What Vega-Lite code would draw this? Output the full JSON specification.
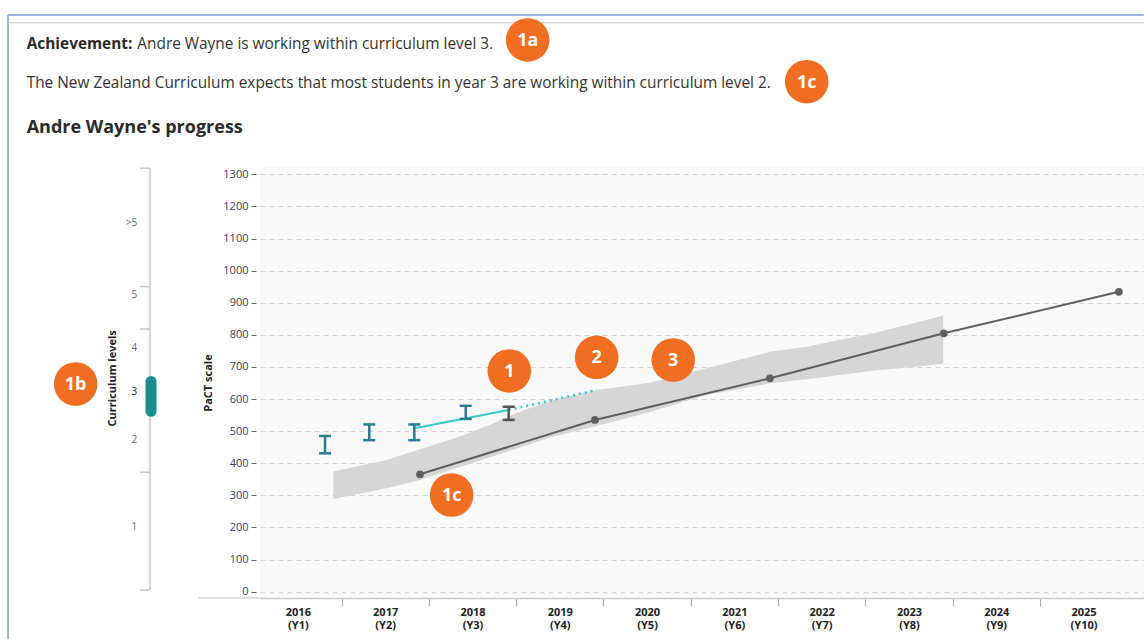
{
  "$schema": "https://vega.github.io/schema/vega-lite/v6.json",
  "width": 884,
  "height": 431,
  "autosize": {"type": "none"},
  "padding": {"left": 260, "top": 167, "right": 0, "bottom": 41},
  "background": "white",
  "config": {
    "font": "Open Sans",
    "view": {"fill": "#f9f9f9", "stroke": null},
    "text": {"font": "Open Sans"}
  },
  "datasets": {
    "band": [
      {"year": 2016.906, "score": 289, "score_hi": 374},
      {"year": 2017.518, "score": 322, "score_hi": 410},
      {"year": 2017.899, "score": 348, "score_hi": 444},
      {"year": 2018.357, "score": 388, "score_hi": 483},
      {"year": 2018.739, "score": 422, "score_hi": 524},
      {"year": 2019.045, "score": 449, "score_hi": 561},
      {"year": 2019.426, "score": 483, "score_hi": 597},
      {"year": 2019.923, "score": 516, "score_hi": 628},
      {"year": 2020.534, "score": 560, "score_hi": 651},
      {"year": 2021.18, "score": 613, "score_hi": 696},
      {"year": 2021.908, "score": 649, "score_hi": 747},
      {"year": 2022.33, "score": 662, "score_hi": 763},
      {"year": 2022.71, "score": 675, "score_hi": 785},
      {"year": 2023.09, "score": 688, "score_hi": 805},
      {"year": 2023.55, "score": 700, "score_hi": 836},
      {"year": 2023.893, "score": 711, "score_hi": 860}
    ],
    "trajectory": [
      {"year": 2017.899, "score": 365.6},
      {"year": 2019.904, "score": 534.8},
      {"year": 2021.908, "score": 664.6},
      {"year": 2023.9, "score": 804.8},
      {"year": 2025.905, "score": 934}
    ],
    "trend": [
      {"year": 2017.834, "score": 509},
      {"year": 2018.915, "score": 566}
    ],
    "projection": [
      {"year": 2018.915, "score": 566},
      {"year": 2019.923, "score": 628}
    ],
    "measurements": [
      {"year": 2016.811, "score": 431, "score_hi": 485, "status": "past"},
      {"year": 2017.318, "score": 472, "score_hi": 521, "status": "past"},
      {"year": 2017.834, "score": 472, "score_hi": 521, "status": "past"},
      {"year": 2018.423, "score": 538, "score_hi": 579, "status": "past"},
      {"year": 2018.915, "score": 535, "score_hi": 576, "status": "latest"}
    ],
    "frameH": [
      {"year": 2013.18, "year_end": 2026.19, "score": 1796.1}
    ],
    "frameV": [
      {"year": 2013.18, "score": -147.7, "score_hi": 1796.1}
    ],
    "grayH": [
      {"year": 2013.19, "year_end": 2026.19, "score": 1772.2},
      {"year": 2015.36, "year_end": 2016.07, "score": -19.6}
    ],
    "levelAxis": [
      {"year": 2014.806, "score": 5.3, "score_hi": 1318.7}
    ],
    "levelBounds": [
      {"year": 2014.691, "year_end": 2014.806, "score": 1318.7},
      {"year": 2014.691, "year_end": 2014.806, "score": 949.9},
      {"year": 2014.691, "year_end": 2014.806, "score": 818.2},
      {"year": 2014.691, "year_end": 2014.806, "score": 371.9},
      {"year": 2014.691, "year_end": 2014.806, "score": 5.3}
    ],
    "levelLabels": [
      {"label": ">5", "year": 2014.659, "score": 1147.4},
      {"label": "5", "year": 2014.659, "score": 924},
      {"label": "4", "year": 2014.659, "score": 760},
      {"label": "3", "year": 2014.659, "score": 623},
      {"label": "2", "year": 2014.659, "score": 472.5},
      {"label": "1", "year": 2014.659, "score": 202.4}
    ],
    "levelRange": [{"year": 2014.818, "score": 562, "score_hi": 655}],
    "levelTitle": [{"text": "Curriculum levels", "year": 2014.384, "score": 664.6}],
    "headerBold": [{"text": "Achievement:", "year": 2013.394, "score": 1690.2}],
    "headerText": [
      {"text": "Andre Wayne is working within curriculum level 3.", "year": 2014.661, "score": 1690.2},
      {"text": "The New Zealand Curriculum expects that most students in year 3 are working within curriculum level 2.", "year": 2013.394, "score": 1567.8}
    ],
    "heading": [{"text": "Andre Wayne's progress", "year": 2013.394, "score": 1429.5}],
    "badges": [
      {"label": "1a", "year": 2019.133, "score": 1718.3},
      {"label": "1c", "year": 2022.329, "score": 1588.4},
      {"label": "1b", "year": 2013.955, "score": 646.9},
      {"label": "1", "year": 2018.922, "score": 687.4},
      {"label": "2", "year": 2019.923, "score": 730},
      {"label": "3", "year": 2020.8, "score": 721.6},
      {"label": "1c", "year": 2018.262, "score": 301.2}
    ]
  },
  "encoding": {
    "x": {
      "field": "year",
      "type": "quantitative",
      "scale": {"domain": [2016.0664, 2026.1924], "nice": false, "zero": false},
      "axis": {
        "title": null,
        "values": [2016.5, 2017, 2017.5, 2018, 2018.5, 2019, 2019.5, 2020, 2020.5, 2021, 2021.5, 2022, 2022.5, 2023, 2023.5, 2024, 2024.5, 2025, 2025.5],
        "grid": false,
        "domainColor": "#c8c8c8",
        "domainWidth": 1.5,
        "tickColor": "#a8a8a8",
        "tickSize": 8,
        "tickOpacity": {"condition": {"test": "datum.value % 1 === 0", "value": 1}, "value": 0},
        "labelExpr": "datum.value % 1 === 0 ? '' : [format(floor(datum.value), 'd'), '(Y' + format(floor(datum.value) - 2015, 'd') + ')']",
        "labelFontWeight": "bold",
        "labelFontSize": 11,
        "labelColor": "#222222",
        "labelPadding": 0,
        "labelLineHeight": 13.5,
        "labelOverlap": false,
        "labelFlush": false,
        "labelBound": false
      }
    },
    "y": {
      "field": "score",
      "type": "quantitative",
      "scale": {"domain": [-19.6, 1322.7], "nice": false, "zero": false},
      "axis": {
        "title": "PaCT scale",
        "values": [0, 100, 200, 300, 400, 500, 600, 700, 800, 900, 1000, 1100, 1200, 1300],
        "format": "d",
        "grid": true,
        "gridColor": "#d2d2d2",
        "gridDash": [5, 4],
        "gridWidth": 1,
        "domain": false,
        "tickColor": "#666666",
        "tickSize": 5,
        "offset": 4,
        "labelFontSize": 11,
        "labelColor": "#3a3a5c",
        "labelPadding": 3,
        "titleFontSize": 11,
        "titleFontWeight": "bold",
        "titleColor": "#222222",
        "titlePadding": 9
      }
    }
  },
  "layer": [
    {
      "data": {"name": "frameH"},
      "mark": {"type": "rule", "color": "#7d9fd6", "strokeWidth": 1.5},
      "encoding": {"x2": {"field": "year_end"}}
    },
    {
      "data": {"name": "frameV"},
      "mark": {"type": "rule", "color": "#7d9fd6", "strokeWidth": 1.5},
      "encoding": {"y2": {"field": "score_hi"}}
    },
    {
      "data": {"name": "grayH"},
      "mark": {"type": "rule", "color": "#d4d4d4", "strokeWidth": 1.5},
      "encoding": {"x2": {"field": "year_end"}}
    },
    {
      "data": {"name": "headerBold"},
      "mark": {"type": "text", "align": "left", "baseline": "alphabetic", "fontSize": 15.4, "fontWeight": "bold", "color": "#2a2a2a"},
      "encoding": {"text": {"field": "text"}}
    },
    {
      "data": {"name": "headerText"},
      "mark": {"type": "text", "align": "left", "baseline": "alphabetic", "fontSize": 15.4, "color": "#333333"},
      "encoding": {"text": {"field": "text"}}
    },
    {
      "data": {"name": "heading"},
      "mark": {"type": "text", "align": "left", "baseline": "alphabetic", "fontSize": 18, "fontWeight": "bold", "color": "#2a2a2a"},
      "encoding": {"text": {"field": "text"}}
    },
    {
      "data": {"name": "levelAxis"},
      "mark": {"type": "rule", "color": "#c4c4c4", "strokeWidth": 1.5},
      "encoding": {"y2": {"field": "score_hi"}}
    },
    {
      "data": {"name": "levelBounds"},
      "mark": {"type": "rule", "color": "#c4c4c4", "strokeWidth": 1.5},
      "encoding": {"x2": {"field": "year_end"}}
    },
    {
      "data": {"name": "levelLabels"},
      "mark": {"type": "text", "align": "right", "baseline": "middle", "fontSize": 10},
      "encoding": {
        "text": {"field": "label"},
        "color": {"condition": {"test": "datum.label === '3'", "value": "#222222"}, "value": "#666666"}
      }
    },
    {
      "data": {"name": "levelRange"},
      "mark": {"type": "rule", "color": "#1b8f90", "strokeWidth": 11, "strokeCap": "round"},
      "encoding": {"y2": {"field": "score_hi"}}
    },
    {
      "data": {"name": "levelTitle"},
      "mark": {"type": "text", "angle": 270, "align": "center", "baseline": "middle", "fontSize": 11, "fontWeight": "bold", "color": "#222222"},
      "encoding": {"text": {"field": "text"}}
    },
    {
      "data": {"name": "band"},
      "mark": {"type": "area", "color": "#d6d6d6", "opacity": 1},
      "encoding": {"y2": {"field": "score_hi"}}
    },
    {
      "data": {"name": "trajectory"},
      "mark": {"type": "line", "color": "#5f5f5f", "strokeWidth": 2, "point": {"filled": true, "size": 60, "color": "#5f5f5f"}}
    },
    {
      "data": {"name": "trend"},
      "mark": {"type": "line", "color": "#3ec7c7", "strokeWidth": 2}
    },
    {
      "data": {"name": "projection"},
      "mark": {"type": "line", "color": "#3ec7c7", "strokeWidth": 2.5, "strokeDash": [2, 4]}
    },
    {
      "data": {"name": "measurements"},
      "mark": {"type": "rule", "strokeWidth": 2.5},
      "encoding": {
        "y2": {"field": "score_hi"},
        "color": {"field": "status", "type": "nominal", "scale": {"domain": ["past", "latest"], "range": ["#2b7c8f", "#555555"]}, "legend": null}
      }
    },
    {
      "data": {"name": "measurements"},
      "mark": {"type": "tick", "orient": "horizontal", "size": 12, "thickness": 2.5, "opacity": 1},
      "encoding": {
        "color": {"field": "status", "type": "nominal", "scale": {"domain": ["past", "latest"], "range": ["#2b7c8f", "#555555"]}, "legend": null}
      }
    },
    {
      "data": {"name": "measurements"},
      "mark": {"type": "tick", "orient": "horizontal", "size": 12, "thickness": 2.5, "opacity": 1},
      "encoding": {
        "y": {"field": "score_hi", "type": "quantitative"},
        "color": {"field": "status", "type": "nominal", "scale": {"domain": ["past", "latest"], "range": ["#2b7c8f", "#555555"]}, "legend": null}
      }
    },
    {
      "data": {"name": "badges"},
      "mark": {"type": "point", "shape": "circle", "filled": true, "size": 1900, "color": "#f06e21", "opacity": 1}
    },
    {
      "data": {"name": "badges"},
      "mark": {"type": "text", "align": "center", "baseline": "middle", "fontSize": 18, "fontWeight": "bold", "color": "white", "dy": 1},
      "encoding": {"text": {"field": "label"}}
    }
  ]
}
